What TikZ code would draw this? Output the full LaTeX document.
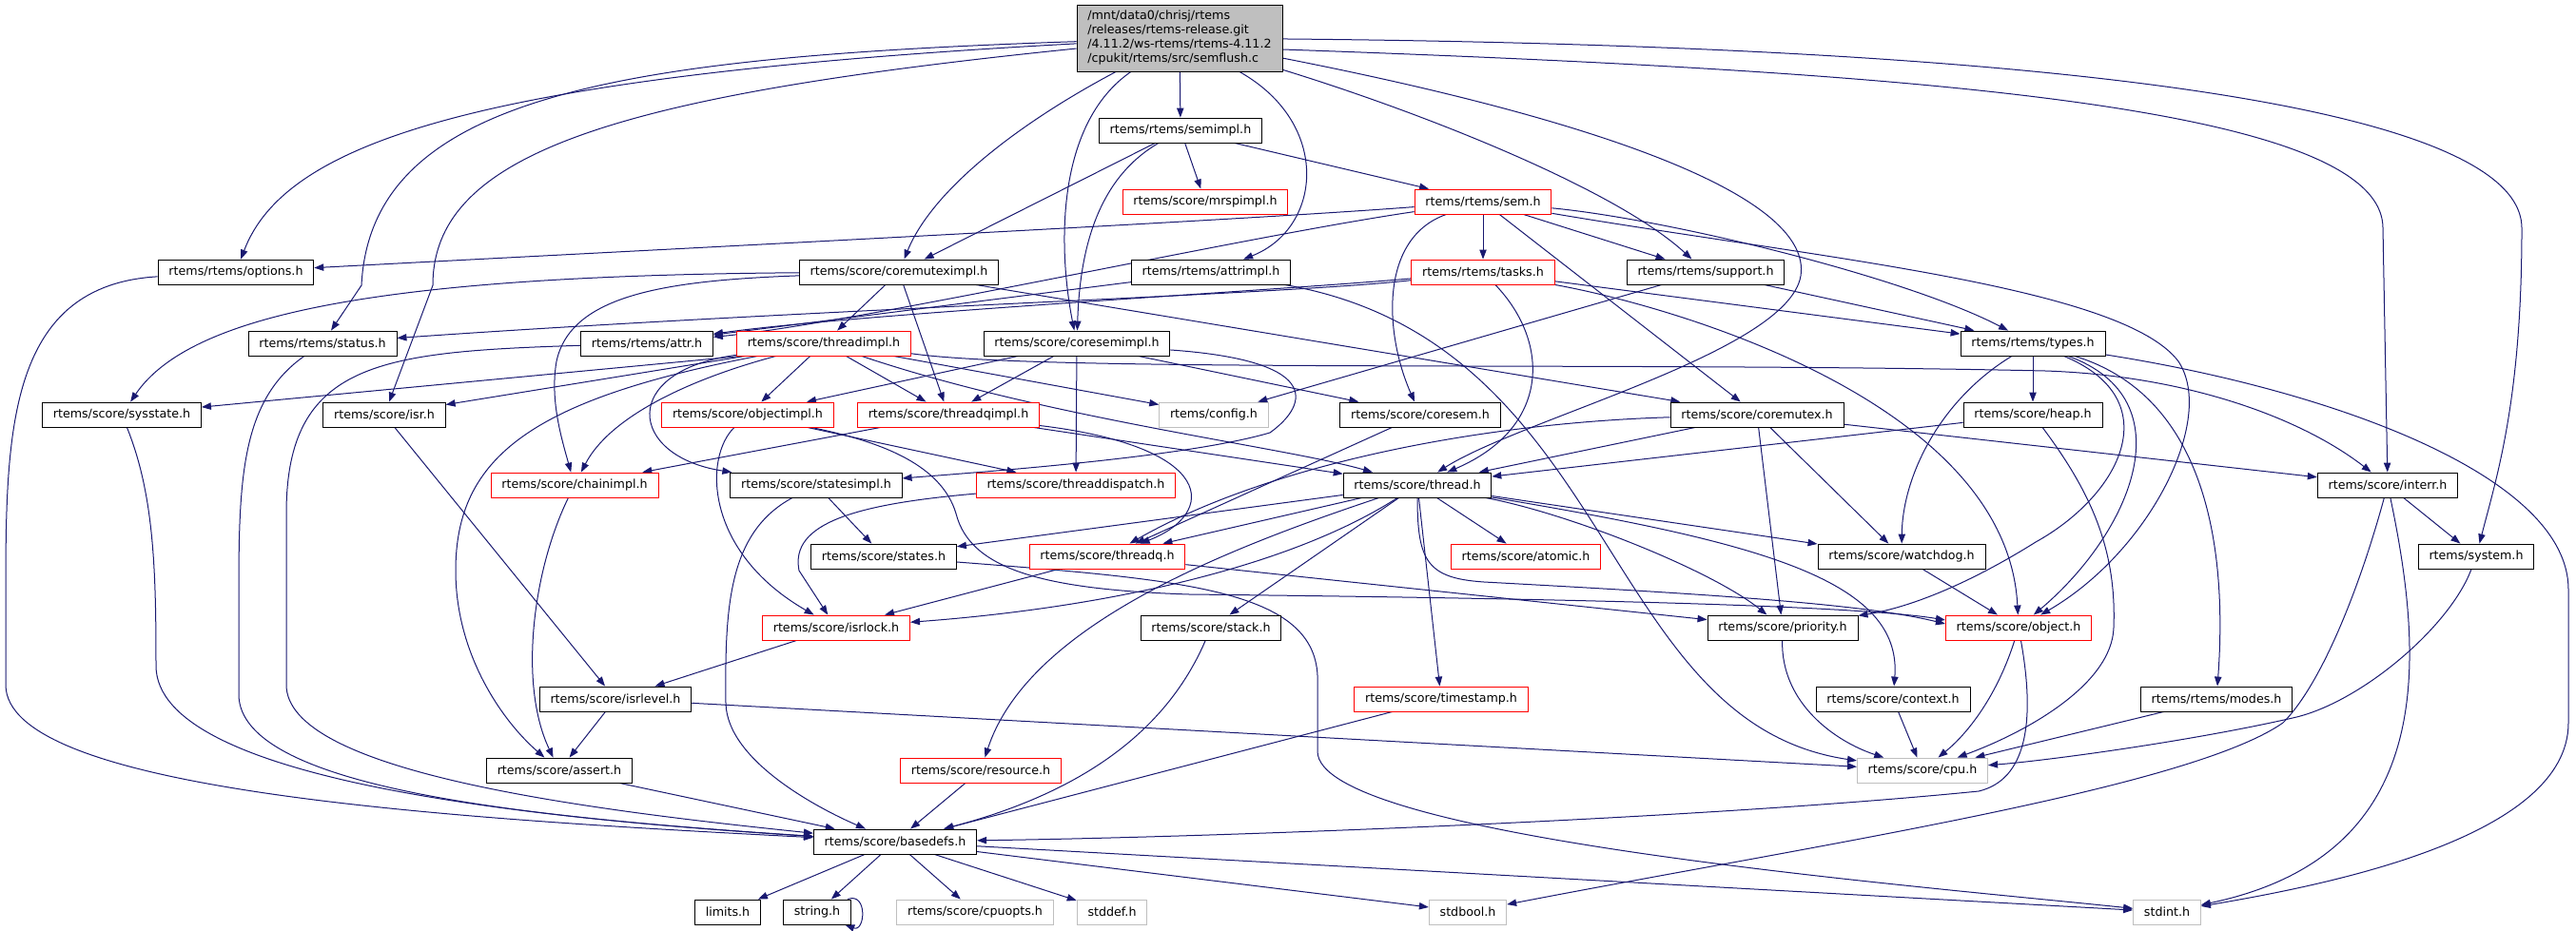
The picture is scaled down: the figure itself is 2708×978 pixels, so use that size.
\documentclass[tikz,border=0pt]{standalone}
\usepackage{fontspec}
\setmainfont{DejaVu Sans}
\usetikzlibrary{arrows.meta}
\definecolor{incblue}{RGB}{25,25,112}
\definecolor{srcgray}{RGB}{191,191,191}
\pgfdeclarelayer{edges}
\pgfsetlayers{edges,main}
\begin{document}
\begin{tikzpicture}[x=0.75pt,y=-0.75pt,
    hdr/.style={draw=black,line width=0.65pt,fill=white,minimum height=19.5pt,inner xsep=8.5pt,inner ysep=0pt,font=\fontsize{9.5}{11.25}\selectfont},
    trunc/.style={hdr,draw=red},
    undoc/.style={hdr,draw=srcgray},
    inc/.style={draw=incblue,line width=0.75pt,-{Triangle[length=7.5pt,width=5.5pt]}}]
\useasboundingbox (0,0) rectangle (2708,978);

\node[hdr,fill=srcgray,align=left,inner ysep=4pt,minimum height=52.5pt] (src) at (1240,40) {/mnt/data0/chrisj/rtems\\/releases/rtems-release.git\\/4.11.2/ws-rtems/rtems-4.11.2\\/cpukit/rtems/src/semflush.c};
\node[hdr] (semimpl) at (1241,137) {rtems/rtems/semimpl.h};
\node[trunc] (mrspimpl) at (1267,212) {rtems/score/mrspimpl.h};
\node[trunc] (sem) at (1559,212) {rtems/rtems/sem.h};
\node[hdr] (options) at (248,286) {rtems/rtems/options.h};
\node[hdr] (cmtximpl) at (945,286) {rtems/score/coremuteximpl.h};
\node[hdr] (attrimpl) at (1273,286) {rtems/rtems/attrimpl.h};
\node[trunc] (tasks) at (1559,286) {rtems/rtems/tasks.h};
\node[hdr] (support) at (1793,286) {rtems/rtems/support.h};
\node[hdr] (status) at (339,361) {rtems/rtems/status.h};
\node[hdr] (attr) at (680,361) {rtems/rtems/attr.h};
\node[trunc] (thrimpl) at (866,361) {rtems/score/threadimpl.h};
\node[hdr] (csemimpl) at (1132,361) {rtems/score/coresemimpl.h};
\node[hdr] (types) at (2137,361) {rtems/rtems/types.h};
\node[hdr] (sysstate) at (128,436) {rtems/score/sysstate.h};
\node[hdr] (isr) at (404,436) {rtems/score/isr.h};
\node[trunc] (objimpl) at (786,436) {rtems/score/objectimpl.h};
\node[trunc] (thrqimpl) at (997,436) {rtems/score/threadqimpl.h};
\node[undoc] (config) at (1276,436) {rtems/config.h};
\node[hdr] (coresem) at (1493,436) {rtems/score/coresem.h};
\node[hdr] (coremutex) at (1847,436) {rtems/score/coremutex.h};
\node[hdr] (heap) at (2137,436) {rtems/score/heap.h};
\node[trunc] (chainimpl) at (604,510) {rtems/score/chainimpl.h};
\node[hdr] (stimpl) at (858,510) {rtems/score/statesimpl.h};
\node[trunc] (thrdisp) at (1131,510) {rtems/score/threaddispatch.h};
\node[hdr] (thread) at (1490,510) {rtems/score/thread.h};
\node[hdr] (interr) at (2510,510) {rtems/score/interr.h};
\node[hdr] (states) at (929,585) {rtems/score/states.h};
\node[trunc] (threadq) at (1164,585) {rtems/score/threadq.h};
\node[trunc] (atomic) at (1604,585) {rtems/score/atomic.h};
\node[hdr] (watchdog) at (1999,585) {rtems/score/watchdog.h};
\node[hdr] (system) at (2603,585) {rtems/system.h};
\node[trunc] (isrlock) at (879,660) {rtems/score/isrlock.h};
\node[hdr] (stack) at (1273,660) {rtems/score/stack.h};
\node[hdr] (priority) at (1874,660) {rtems/score/priority.h};
\node[trunc] (object) at (2122,660) {rtems/score/object.h};
\node[hdr] (isrlevel) at (647,735) {rtems/score/isrlevel.h};
\node[trunc] (tstamp) at (1515,735) {rtems/score/timestamp.h};
\node[hdr] (context) at (1990,735) {rtems/score/context.h};
\node[hdr] (modes) at (2330,735) {rtems/rtems/modes.h};
\node[hdr] (assert) at (588,810) {rtems/score/assert.h};
\node[trunc] (resource) at (1031,810) {rtems/score/resource.h};
\node[undoc] (cpu) at (2021,810) {rtems/score/cpu.h};
\node[hdr] (basedefs) at (941,885) {rtems/score/basedefs.h};
\node[hdr] (limits) at (765,959) {limits.h};
\node[hdr] (string) at (859,959) {string.h};
\node[undoc] (cpuopts) at (1025,959) {rtems/score/cpuopts.h};
\node[undoc] (stddef) at (1169,959) {stddef.h};
\node[undoc] (stdbool) at (1543,959) {stdbool.h};
\node[undoc] (stdint) at (2278,959) {stdint.h};

\begin{pgfonlayer}{edges}
\draw[inc] (src) .. controls (500,80) and (300,150) .. (options);
\draw[inc] (src) .. controls (650,60) and (390,100) .. (380,300) -- (status);
\draw[inc] (src) .. controls (650,100) and (455,160) .. (455,300) -- (isr);
\draw[inc] (src) .. controls (1070,130) and (980,200) .. (cmtximpl);
\draw[inc] (src) .. controls (1110,130) and (1112,260) .. (csemimpl);
\draw[inc] (src) -- (semimpl);
\draw[inc] (src) .. controls (1400,130) and (1390,240) .. (attrimpl);
\draw[inc] (src) .. controls (1700,130) and (1905,210) .. (1893,290) .. controls (1880,370) and (1600,440) .. (thread);
\draw[inc] (src) .. controls (1500,120) and (1700,200) .. (support);
\draw[inc] ([yshift=-9pt]src.east) .. controls (2000,75) and (2505,110) .. (2505,240) -- (interr);
\draw[inc] (src) .. controls (2150,48) and (2651,110) .. (2651,240) .. controls (2651,420) and (2625,500) .. (system);

\draw[inc] (semimpl) -- (cmtximpl);
\draw[inc] (semimpl) .. controls (1150,190) and (1135,270) .. (csemimpl);
\draw[inc] (semimpl) -- (mrspimpl);
\draw[inc] (semimpl) -- (sem);

\draw[inc] (sem) .. controls (1300,232) and (700,262) .. (options);
\draw[inc] (sem) .. controls (1300,250) and (900,340) .. (attr);
\draw[inc] (sem) -- (tasks);
\draw[inc] (sem) -- (support);
\draw[inc] (sem) .. controls (1750,230) and (2000,290) .. (types);
\draw[inc] (sem) .. controls (1450,250) and (1455,350) .. (coresem);
\draw[inc] (sem) -- (coremutex);
\draw[inc] (sem) .. controls (1900,270) and (2230,300) .. (2290,380) .. controls (2330,440) and (2260,580) .. (object);

\draw[inc] (tasks) .. controls (1350,310) and (850,325) .. (status);
\draw[inc] (tasks) .. controls (1350,305) and (900,330) .. (attr);
\draw[inc] (tasks) .. controls (1630,360) and (1630,450) .. (thread);
\draw[inc] (tasks) -- (types);
\draw[inc] (tasks) .. controls (1750,320) and (2110,420) .. (object);

\draw[inc] (support) -- (types);
\draw[inc] (support) -- (config);

\draw[inc] (attrimpl) -- (attr);
\draw[inc] (attrimpl) .. controls (1700,360) and (1680,760) .. (cpu);

\draw[inc] (options) .. controls (10,300) and (6,450) .. (6,620) -- (6,720) .. controls (6,830) and (450,860) .. (basedefs);
\draw[inc] (status) .. controls (255,420) and (251,500) .. (251,620) -- (251,730) .. controls (251,830) and (560,860) .. (basedefs);
\draw[inc] (attr) .. controls (400,370) and (301,380) .. (301,540) -- (301,720) .. controls (301,810) and (600,850) .. (basedefs);
\draw[inc] (sysstate) .. controls (162,520) and (164,600) .. (164,700) .. controls (164,820) and (550,860) .. (basedefs);

\draw[inc] (cmtximpl) .. controls (400,290) and (200,330) .. (sysstate);
\draw[inc] (cmtximpl) -- (thrimpl);
\draw[inc] (cmtximpl) .. controls (700,295) and (600,310) .. (585,380) .. controls (578,420) and (590,460) .. (chainimpl);
\draw[inc] (cmtximpl) -- (thrqimpl);
\draw[inc] (cmtximpl) -- (coremutex);

\draw[inc] ([xshift=4pt]thrimpl.south west) -- (sysstate);
\draw[inc] (thrimpl) -- (isr);
\draw[inc] (thrimpl) .. controls (720,400) and (640,440) .. (chainimpl);
\draw[inc] (thrimpl) .. controls (650,390) and (660,480) .. (stimpl);
\draw[inc] (thrimpl) .. controls (560,420) and (479,480) .. (479,600) .. controls (479,690) and (530,760) .. (assert);
\draw[inc] (thrimpl) -- (objimpl);
\draw[inc] (thrimpl) -- (thrqimpl);
\draw[inc] (thrimpl) .. controls (1100,440) and (1350,470) .. (thread);
\draw[inc] (thrimpl) -- (config);
\draw[inc] ([yshift=2pt]thrimpl.south east) .. controls (1100,392) and (1700,380) .. (2150,390) .. controls (2300,395) and (2420,440) .. (interr);

\draw[inc] (csemimpl) -- (objimpl);
\draw[inc] (csemimpl) -- (thrqimpl);
\draw[inc] (csemimpl) -- (thrdisp);
\draw[inc] (csemimpl) -- (coresem);
\draw[inc] (csemimpl) .. controls (1400,380) and (1370,430) .. (1335,455) .. controls (1250,480) and (1050,495) .. (stimpl);

\draw[inc] (objimpl) .. controls (740,480) and (740,580) .. (isrlock);
\draw[inc] (objimpl) -- (thrdisp);
\draw[inc] (objimpl) .. controls (930,465) and (990,490) .. (1005,540) .. controls (1020,600) and (1100,620) .. (1250,625) .. controls (1700,630) and (1960,638) .. ([yshift=6pt]object.west);

\draw[inc] (thrqimpl) -- (chainimpl);
\draw[inc] (thrqimpl) .. controls (1280,470) and (1280,540) .. (threadq);
\draw[inc] (thrqimpl) -- (thread);

\draw[inc] (coresem) -- (threadq);

\draw[inc] (coremutex) -- (thread);
\draw[inc] (coremutex) .. controls (1550,445) and (1330,490) .. (threadq);
\draw[inc] (coremutex) -- (watchdog);
\draw[inc] (coremutex) -- (priority);
\draw[inc] (coremutex) -- (interr);

\draw[inc] (heap) -- (thread);
\draw[inc] (heap) .. controls (2200,520) and (2225,580) .. (2222,660) .. controls (2220,720) and (2130,770) .. (cpu);

\draw[inc] (types) -- (heap);
\draw[inc] (types) .. controls (2040,420) and (2000,500) .. (watchdog);
\draw[inc] (types) .. controls (2280,420) and (2230,520) .. (2140,570) .. controls (2060,620) and (2000,640) .. (priority);
\draw[inc] (types) .. controls (2300,420) and (2240,560) .. (object);
\draw[inc] (types) .. controls (2330,420) and (2340,600) .. (modes);
\draw[inc] (types) .. controls (2450,410) and (2700,500) .. (2700,620) -- (2700,760) .. controls (2700,880) and (2450,930) .. (stdint);

\draw[inc] (interr) -- (system);
\draw[inc] (interr) .. controls (2480,620) and (2440,720) .. (2400,760) .. controls (2300,830) and (1900,890) .. (stdbool);
\draw[inc] (interr) .. controls (2550,700) and (2560,900) .. (stdint);

\draw[inc] (system) .. controls (2575,660) and (2480,740) .. (2410,755) .. controls (2300,780) and (2150,800) .. (cpu);

\draw[inc] (states) .. controls (1250,610) and (1390,620) .. (1385,720) -- (1385,790) .. controls (1385,880) and (2000,930) .. (stdint);

\draw[inc] (stimpl) -- (states);
\draw[inc] (stimpl) .. controls (765,560) and (762,640) .. (763,740) .. controls (765,800) and (860,850) .. (basedefs);

\draw[inc] (thrdisp) .. controls (900,530) and (830,550) .. (840,600) -- (isrlock);

\draw[inc] (thread) -- (states);
\draw[inc] (thread) -- (threadq);
\draw[inc] (thread) .. controls (1350,600) and (1150,640) .. (isrlock);
\draw[inc] (thread) -- (stack);
\draw[inc] (thread) .. controls (1280,580) and (1080,660) .. (resource);
\draw[inc] (thread) -- (tstamp);
\draw[inc] (thread) -- (atomic);
\draw[inc] (thread) .. controls (1650,540) and (1800,600) .. (priority);
\draw[inc] (thread) -- (watchdog);
\draw[inc] (thread) .. controls (1850,570) and (2000,610) .. (context);
\draw[inc] (thread) .. controls (1490,590) and (1500,608) .. (1560,612) .. controls (1800,625) and (1960,635) .. ([yshift=3pt]object.west);

\draw[inc] (threadq) -- (isrlock);
\draw[inc] (threadq) -- (priority);
\draw[inc] (watchdog) -- (object);

\draw[inc] (chainimpl) .. controls (560,600) and (545,720) .. (assert);
\draw[inc] (isr) -- (isrlevel);
\draw[inc] (isrlock) -- (isrlevel);
\draw[inc] (isrlevel) -- (assert);
\draw[inc] (isrlevel) -- (cpu);
\draw[inc] (assert) -- (basedefs);
\draw[inc] (stack) .. controls (1230,760) and (1150,830) .. (basedefs);
\draw[inc] (tstamp) -- (basedefs);
\draw[inc] (resource) -- (basedefs);
\draw[inc] (priority) .. controls (1872,740) and (1930,780) .. (cpu);
\draw[inc] (object) .. controls (2100,730) and (2070,770) .. (cpu);
\draw[inc] (object) .. controls (2140,760) and (2130,820) .. (2080,832) .. controls (1800,860) and (1300,880) .. (basedefs);
\draw[inc] (context) -- (cpu);
\draw[inc] (modes) -- (cpu);

\draw[inc] (basedefs) -- (limits);
\draw[inc] (basedefs) -- (string);
\draw[inc] (basedefs) -- (cpuopts);
\draw[inc] (basedefs) -- (stddef);
\draw[inc] (basedefs) -- (stdbool);
\draw[inc] (basedefs) -- (stdint);
\draw[inc] ([xshift=-3pt]string.north east) .. controls +(16pt,6pt) and +(16pt,-6pt) .. ([xshift=-5pt]string.south east);
\end{pgfonlayer}
\end{tikzpicture}
\end{document}
